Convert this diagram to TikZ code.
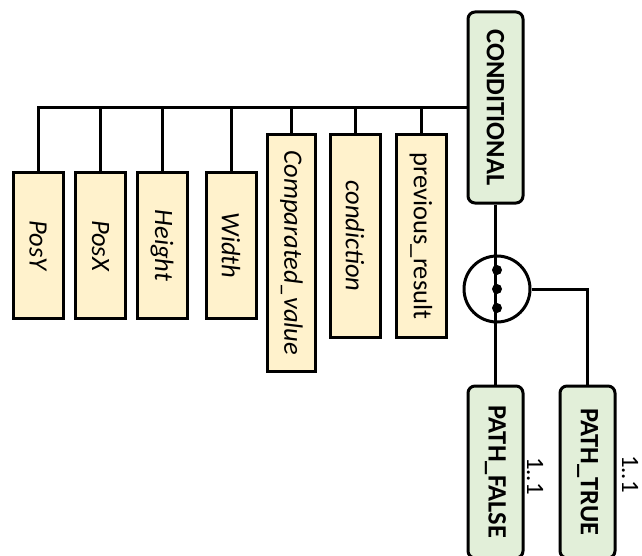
\documentclass[tikz,border=0pt]{standalone}
\usepackage{fontspec}
\setmainfont{Carlito}
\definecolor{greenfill}{HTML}{E2EFD9}
\definecolor{attrfill}{HTML}{FFF2CC}
\begin{document}
\begin{tikzpicture}[x=1pt,y=-1pt,
  line width=3pt,
  green box/.style={draw=black, fill=greenfill, rounded corners=7pt,
    rotate=-90, inner sep=0pt, font=\fontsize{26.5}{26.5}\selectfont\bfseries},
  attr box/.style={draw=black, fill=attrfill, rotate=-90, inner sep=0pt,
    minimum height=50pt, font=\fontsize{26.5}{26.5}\selectfont\itshape},
  mult/.style={rotate=-90, inner sep=0pt, font=\fontsize{25}{25}\selectfont}]
\useasboundingbox (0,0) rectangle (642,556);

% main element and its two paths
\node[green box, minimum width=191pt, minimum height=55pt] (cond) at (495.5,107.5) {CONDITIONAL};
\node[green box, minimum width=172pt, minimum height=55pt] (pfalse) at (495.5,472) {PATH\_FALSE};
\node[green box, minimum width=172pt, minimum height=55pt] (ptrue) at (587.5,472) {PATH\_TRUE};

% attributes
\node[attr box, minimum width=145pt] (posy) at (38,245.5) {PosY};
\node[attr box, minimum width=145pt] (posx) at (100.5,245.5) {PosX};
\node[attr box, minimum width=145pt] (height) at (162,245.5) {Height};
\node[attr box, minimum width=145pt] (width) at (231,245.5) {Width};
\node[attr box, minimum width=236pt, minimum height=48pt] (compval) at (291.5,253) {Comparated\_value};
\node[attr box, minimum width=202pt] (cond2) at (355,236) {condiction};
\node[attr box, minimum width=202pt, font=\fontsize{26.5}{26.5}\selectfont\upshape] (prev) at (421,236) {previous\_result};

% attribute bus
\draw (cond.south) -| (posy.west);
\foreach \n in {posx,height,width,compval,cond2,prev}
  \draw (\n.west) -- (\n.west |- cond.south);

% choice connector
\node[circle, draw, fill=white, minimum size=66pt, inner sep=0pt] (choice) at (497,289) {};
\draw (cond.east) -- (pfalse.west);
\foreach \yy/\nm in {270/d1,289/d2,308/d3}
  \node[circle, fill=black, minimum size=10pt, inner sep=0pt] (\nm) at (497,\yy) {};
\draw (choice.east) -| (ptrue.west);

% multiplicities
\node[mult] (m1) at (535,476) {1..1};
\node[mult] (m2) at (630,474) {1..1};
\end{tikzpicture}
\end{document}
